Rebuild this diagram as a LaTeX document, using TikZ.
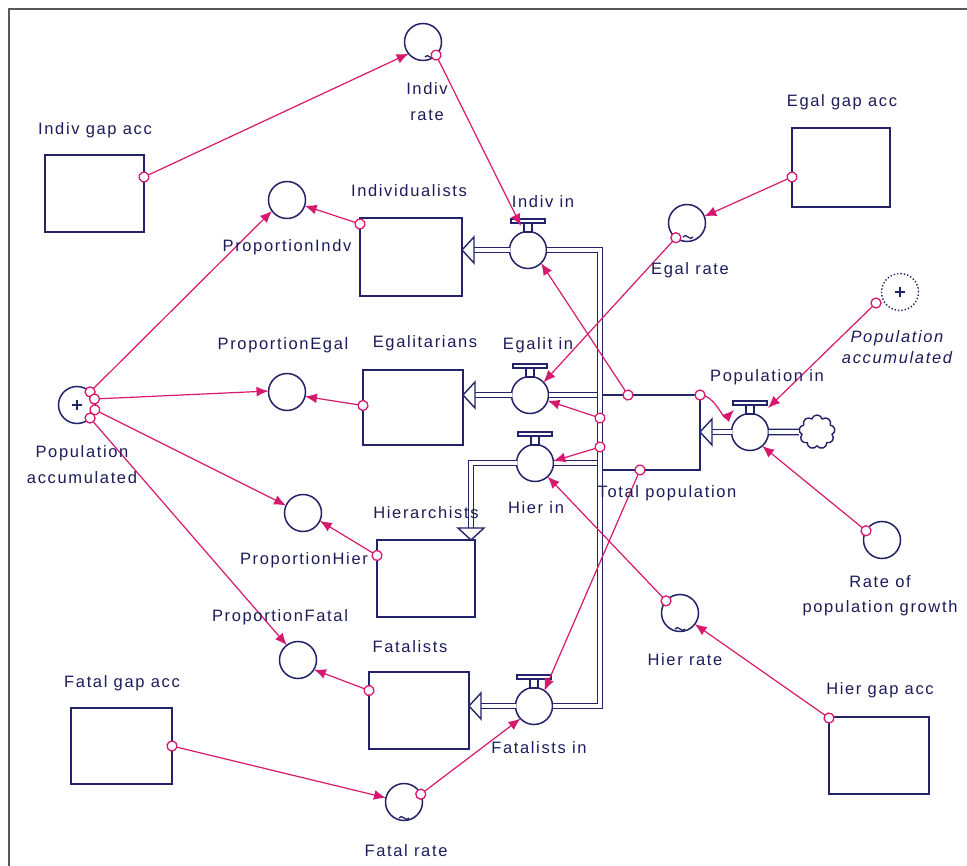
\documentclass[tikz,border=0pt]{standalone}
\usepackage{fontspec}
\setmainfont[LetterSpace=10]{Liberation Sans}
\usetikzlibrary{arrows.meta,decorations.markings,shapes.symbols}
\definecolor{navy}{RGB}{35,35,105}
\definecolor{mag}{RGB}{215,25,110}
\definecolor{txt}{RGB}{28,28,90}
\newcommand\valvebar[1]{%
  \draw[navy, line width=1.2pt, fill=white] ([shift={(-4pt,18pt)}]#1.center) rectangle ([shift={(4pt,27pt)}]#1.center);
  \draw[navy, line width=1.2pt, fill=white] ([shift={(-17pt,27pt)}]#1.center) rectangle ([shift={(17pt,31pt)}]#1.center);}
\newcommand\flowheadL[1]{\draw[navy, line width=1.4pt, fill=white] (#1) -- ++(12,-13) -- ++(0,26) -- cycle;}
\newcommand\flowheadD[1]{\draw[navy, line width=1.4pt, fill=white] (#1) -- ++(-13,-12) -- ++(26,0) -- cycle;}
\newcommand\ratewave[3]{\draw[navy, line width=1.3pt] ([shift={({#2pt-5pt},{#3pt})}]#1.center) .. controls +(2.5,-5) and +(-2.5,5) .. ([shift={({#2pt+5pt},{#3pt})}]#1.center);}
\begin{document}
\begin{tikzpicture}[x=1pt, y={(0pt,-1pt)},
  stock/.style={draw=navy, line width=1.9pt, fill=white, inner sep=0pt, outer sep=0pt, minimum width=100pt, minimum height=77pt},
  conv/.style={circle, draw=navy, line width=1.5pt, fill=white, minimum size=37pt, inner sep=0pt, outer sep=0pt},
  pipe/.style={draw=navy, line width=1.5pt, double=white, double distance=3.8pt},
  lab/.style={text=txt, font=\fontsize{16.5}{26}\selectfont, inner sep=0pt, align=center},
  conn/.style={draw=mag, line width=1.2pt, -{Latex[length=12pt,width=10pt]},
    postaction={decorate},
    decoration={markings, mark=at position 0 with {\draw[mag, fill=white, line width=1.3pt] (0,0) circle (5pt);}}}
]
\useasboundingbox (0,0) rectangle (967,866);
\fill[white] (0,0) rectangle (967,866);
\draw[black!65, line width=2.2pt] (9,866) -- (9,9) -- (967,9);

% stocks
\node[stock, minimum width=99pt] (IndivGap) at (94.5,193.5) {};
\node[stock, minimum width=102pt, minimum height=78pt] (Indiv) at (411,257) {};
\node[stock, minimum height=75pt] (Egal) at (413,407.5) {};
\node[stock, minimum width=98pt] (Hier) at (426,578.5) {};
\node[stock] (Fatal) at (419,710.5) {};
\node[stock, minimum width=101pt, minimum height=76pt] (FatalGap) at (121.5,746) {};
\node[stock] (HierGap) at (879,755.5) {};
\node[stock, minimum width=98pt, minimum height=79pt] (EgalGap) at (841,167.5) {};
\node[stock, minimum height=75pt] (TotPop) at (650,432.5) {};

% converters
\node[conv] (IndivRate) at (423,42) {};
\node[conv] (PropIndv) at (287,200) {};
\node[conv] (EgalRate) at (687,223) {};
\node[conv] (PropEgal) at (287,392) {};
\node[conv] (PopAccL) at (77,405) {};
\node[conv] (PropHier) at (303,513) {};
\node[conv] (PropFatal) at (298,660) {};
\node[conv] (HierRate) at (680,613) {};
\node[conv] (FatalRate) at (404,802) {};
\node[conv] (RateGrowth) at (882,540) {};
\node[circle, draw=navy, dotted, line width=1.4pt, minimum size=37pt, inner sep=0pt] (Ghost) at (900,292) {};

% valves
\node[conv] (IndivIn) at (528,250) {};
\node[conv] (EgalitIn) at (530,395) {};
\node[conv] (HierIn) at (535,463) {};
\node[conv] (FatalIn) at (534,706) {};
\node[conv] (PopIn) at (750,432) {};
\node[cloud, cloud puffs=9, draw=navy, line width=1.4pt, fill=white, minimum width=36pt, minimum height=34pt, inner sep=0pt] (Cloud) at (817,432) {};

% pipes
\draw[pipe] (IndivIn.west) -- ([xshift=12pt]IndivIn.west -| Indiv.east);
\flowheadL{IndivIn.west -| Indiv.east}
\draw[pipe] (EgalitIn.west) -- ([xshift=12pt]EgalitIn.west -| Egal.east);
\flowheadL{EgalitIn.west -| Egal.east}
\draw[pipe] (FatalIn.west) -- ([xshift=12pt]FatalIn.west -| Fatal.east);
\flowheadL{FatalIn.west -| Fatal.east}
\draw[pipe] (HierIn.west) -| ([xshift=-4pt, yshift=12pt]Hier.north east);
\flowheadD{[xshift=-4pt]Hier.north east}
\draw[pipe] (EgalitIn.east) -- ([xshift=-1.5pt]EgalitIn.east -| TotPop.west);
\draw[pipe] (HierIn.east) -- ([xshift=-1.5pt]HierIn.east -| TotPop.west);
\draw[pipe] (IndivIn.east) -- (IndivIn.east -| TotPop.west) -- (FatalIn.east -| TotPop.west) -- (FatalIn.east);
\draw[pipe] (Cloud.west) -- (PopIn.east);
\draw[pipe] (PopIn.west) -- ([xshift=12pt]PopIn.west -| TotPop.east);
\flowheadL{PopIn.west -| TotPop.east}

% valve bars
\valvebar{IndivIn}
\valvebar{EgalitIn}
\valvebar{HierIn}
\valvebar{FatalIn}
\valvebar{PopIn}

% marks inside converters
\ratewave{IndivRate}{7}{-15}
\ratewave{EgalRate}{1}{-14}
\ratewave{HierRate}{0}{-16}
\ratewave{FatalRate}{0}{-16}
\draw[navy, line width=1.5pt] ([xshift=-5pt]PopAccL.center) -- ([xshift=5pt]PopAccL.center)
  ([yshift=-5pt]PopAccL.center) -- ([yshift=5pt]PopAccL.center);
\draw[navy, line width=1.5pt] ([xshift=-5pt]Ghost.center) -- ([xshift=5pt]Ghost.center)
  ([yshift=-5pt]Ghost.center) -- ([yshift=5pt]Ghost.center);

% connectors
\draw[conn] ([yshift=16.5pt]IndivGap.east) -- (IndivRate.219);
\draw[conn] (IndivRate.315) -- ([shift={(-7pt,24pt)}]IndivIn.center);
\draw[conn] ([yshift=-6pt]Indiv.north west) -- (PropIndv.342);
\draw[conn] (PopAccL.45) -- (PropIndv.216);
\draw[conn] (PopAccL.19) -- (PropEgal.177);
\draw[conn] ([yshift=2pt]Egal.west) -- (PropEgal.346);
\draw[conn] (PopAccL.345) -- (PropHier.156);
\draw[conn] ([yshift=23pt]Hier.west) -- (PropHier.335);
\draw[conn] (PopAccL.315) -- (PropFatal.127);
\draw[conn] ([yshift=20pt]Fatal.west) -- (PropFatal.329);
\draw[conn] (FatalGap.east) -- (FatalRate.167);
\draw[conn] (FatalRate.25) -- (FatalIn.223);
\draw[conn] ([yshift=-1pt]HierGap.north west) -- (HierRate.323);
\draw[conn] (HierRate.139) -- (HierIn.313);
\draw[conn] ([yshift=-9.5pt]EgalGap.west) -- (EgalRate.21);
\draw[conn] (EgalRate.233) -- (EgalitIn.43);
\draw[conn] ([xshift=28pt]TotPop.north west) -- (IndivIn.315);
\draw[conn] ([yshift=-23pt]TotPop.north west) -- (EgalitIn.342);
\draw[conn] ([yshift=-52pt]TotPop.north west) -- (HierIn.6);
\draw[conn] ([xshift=40pt]TotPop.south west) -- (FatalIn.56);
\draw[conn] (TotPop.north east) to[out=0,in=225] ([shift={(-16pt,22pt)}]PopIn.center);
\draw[conn] ([shift={(-24pt,-11pt)}]Ghost.center) -- ([shift={(18pt,24pt)}]PopIn.center);
\draw[conn] (RateGrowth.150) -- (PopIn.311);

% labels
\node[lab] (lIndivGap) at (95,130) {Indiv gap acc};
\node[lab] (lIndivRate) at (427,102) {Indiv\\rate};
\node[lab] (lPropIndv) at (287,247) {ProportionIndv};
\node[lab] (lIndiv) at (409,191) {Individualists};
\node[lab] (lIndivIn) at (543,202) {Indiv in};
\node[lab] (lEgalGap) at (842,102) {Egal gap acc};
\node[lab] (lEgalRate) at (690,270) {Egal rate};
\node[lab] (lPropEgal) at (283,345) {ProportionEgal};
\node[lab] (lEgal) at (425,343) {Egalitarians};
\node[lab] (lEgalitIn) at (538,345) {Egalit in};
\node[lab] (lPopIn) at (767,377) {Population in};
\node[lab, font=\fontsize{16.5}{21}\selectfont\itshape] (lGhost) at (897,347) {Population\\accumulated};
\node[lab] (lPopAccL) at (82,465) {Population\\accumulated};
\node[lab] (lHier) at (426,513) {Hierarchists};
\node[lab] (lHierIn) at (536,508) {Hier in};
\node[lab] (lTotPop) at (667,493) {Total population};
\node[lab] (lPropHier) at (304,560) {ProportionHier};
\node[lab] (lPropFatal) at (280,617) {ProportionFatal};
\node[lab] (lFatal) at (410,647) {Fatalists};
\node[lab] (lFatalIn) at (539,748) {Fatalists in};
\node[lab] (lFatalGap) at (122,683) {Fatal gap acc};
\node[lab] (lFatalRate) at (406,851) {Fatal rate};
\node[lab] (lHierRate) at (685,660) {Hier rate};
\node[lab] (lHierGap) at (880,690) {Hier gap acc};
\node[lab, font=\fontsize{16.5}{25}\selectfont] (lRateGrowth) at (880,596) {Rate of\\population growth};
\end{tikzpicture}
\end{document}
